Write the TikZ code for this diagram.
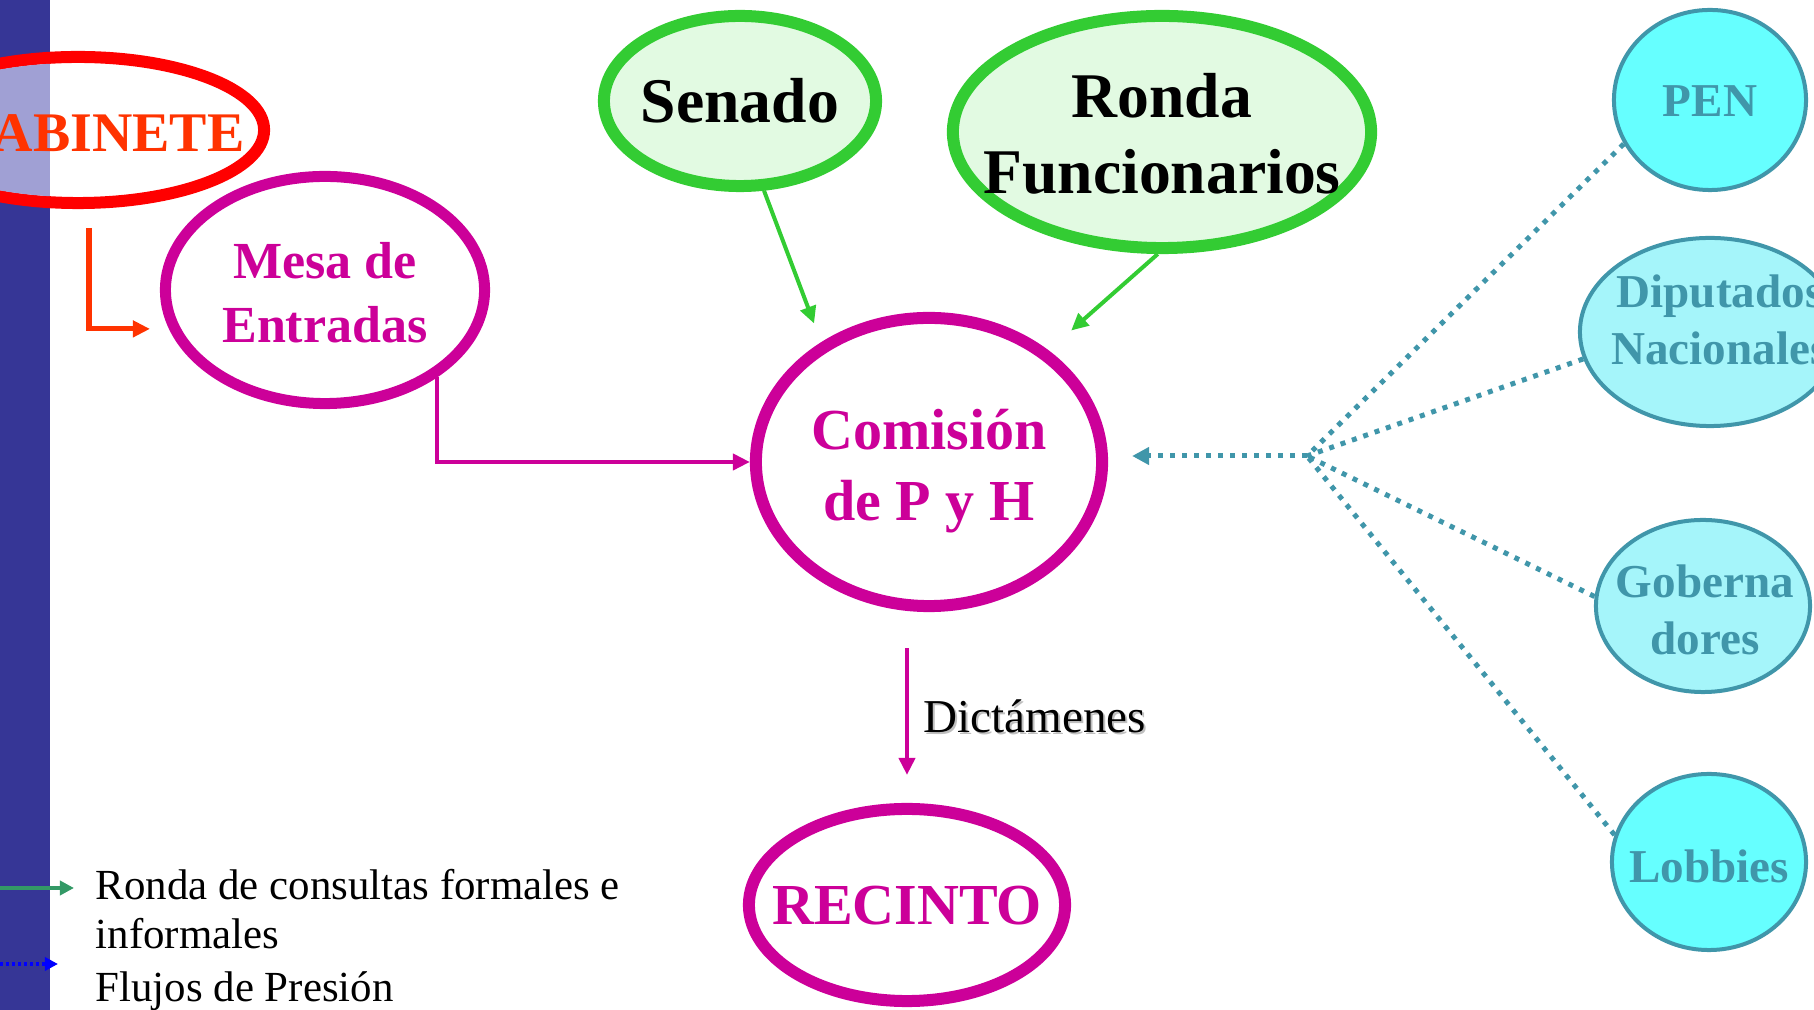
\documentclass[tikz,border=0pt]{standalone}
\usepackage{fontspec}
\setmainfont{Liberation Serif}
\usetikzlibrary{shapes.geometric,arrows.meta}

\definecolor{barblue}{RGB}{54,54,150}
\definecolor{speckblue}{RGB}{160,160,212}
\definecolor{gabred}{RGB}{255,0,0}
\definecolor{gabtext}{RGB}{255,51,0}
\definecolor{pyhpink}{RGB}{204,0,153}
\definecolor{rondagreen}{RGB}{51,204,51}
\definecolor{palegreen}{RGB}{226,250,226}
\definecolor{presteal}{RGB}{64,150,170}
\definecolor{cyanfill}{RGB}{102,255,255}
\definecolor{cyanspeck}{RGB}{165,245,250}
\definecolor{keygreen}{RGB}{51,153,102}
\definecolor{keyblue}{RGB}{0,0,255}

\begin{document}
\begin{tikzpicture}[x=0.01cm,y=-0.01cm,
    oval/.style={ellipse, inner sep=0pt, line width=0.12cm},
    pinkoval/.style={oval, draw=pyhpink, fill=white},
    greenoval/.style={oval, draw=rondagreen, fill=palegreen},
    presoval/.style={ellipse, inner sep=0pt, line width=0.04cm, draw=presteal},
    pinklabel/.style={inner sep=0pt, align=center, text=pyhpink},
    blacklabel/.style={inner sep=0pt, align=center, font=\bfseries\fontsize{18.1}{21.6}\selectfont},
    preslabel/.style={inner sep=0pt, align=center, text=presteal, font=\bfseries\fontsize{13.4}{16.2}\selectfont},
    keytext/.style={inner sep=0pt, align=left, font=\fontsize{12.2}{14.2}\selectfont},
    pinkarrow/.style={draw=pyhpink, line width=0.04cm, -{Triangle[length=0.17cm,width=0.16cm]}},
    greenarrow/.style={draw=rondagreen, line width=0.04cm, -{Triangle[length=0.17cm,width=0.16cm]}},
    presline/.style={draw=presteal, line width=0.05cm, dash pattern=on 0.05cm off 0.07cm}]

    \useasboundingbox (0,0) rectangle (1814,1010);
    \fill [barblue] (0,0) rectangle (50,1010);

    % gabinete
    \node [oval, draw=gabred, fill=white, minimum width=3.72cm, minimum height=1.46cm] (gabinete) at (78,130) {};
    \begin{scope}
        \clip (78,130) ellipse [x radius=1.80cm, y radius=0.67cm];
        \fill [speckblue] (0,0) rectangle (50,300);
    \end{scope}
    \node [inner sep=0pt, text=gabtext, font=\bfseries\fontsize{15.9}{18}\selectfont] (gabinete label) at (97,133) {GABINETE};

    % camara
    \node [pinkoval, line width=0.11cm, minimum width=3.19cm, minimum height=2.27cm] (mesa) at (325,290) {};
    \node [pinklabel, font=\bfseries\fontsize{14.8}{18.2}\selectfont] (mesa label) at (325,293) {Mesa de\\Entradas};

    \node [pinkoval, minimum width=3.46cm, minimum height=2.88cm] (comision) at (929,462) {};
    \node [pinklabel, font=\bfseries\fontsize{16.5}{20.2}\selectfont] (comision label) at (929,471) {Comisión\\de P y H};

    \node [pinkoval, minimum width=3.16cm, minimum height=1.92cm] (recinto) at (907,905) {};
    \node [pinklabel, font=\bfseries\fontsize{16.5}{20}\selectfont] (recinto label) at (907,906) {RECINTO};

    % consultas
    \node [greenoval, minimum width=2.72cm, minimum height=1.70cm] (senado) at (740,101) {};
    \node [blacklabel] (senado label) at (740,101) {Senado};
    \node [greenoval, minimum width=4.18cm, minimum height=2.32cm] (ronda) at (1162,132) {};
    \node [blacklabel] (ronda label) at (1162,134) {Ronda\\Funcionarios};

    % presion
    \node [presoval, fill=cyanfill, minimum width=1.92cm, minimum height=1.80cm] (pen) at (1710,100) {};
    \node [preslabel] (pen label) at (1710,101) {PEN};
    \node [presoval, fill=cyanspeck, minimum width=2.60cm, minimum height=1.88cm] (diputados) at (1710,332) {};
    \node [preslabel] (diputados label) at (1720,320) {Diputados\\Nacionales};
    \node [presoval, fill=cyanspeck, minimum width=2.14cm, minimum height=1.72cm] (gobernadores) at (1703,606) {};
    \node [preslabel] (gobernadores label) at (1705,610) {Goberna\\dores};
    \node [presoval, fill=cyanfill, minimum width=1.94cm, minimum height=1.76cm] (lobbies) at (1709,862) {};
    \node [preslabel] (lobbies label) at (1709,866) {Lobbies};

    % flechas
    \coordinate (gabinete out) at (89,228);
    \draw [draw=gabtext, line width=0.05cm, -{Triangle[length=0.17cm,width=0.16cm]}] (gabinete out) |- ([xshift=-0.19cm]mesa.194);
    \draw [pinkarrow] (mesa.322) |- (comision.west);
    \draw [greenarrow, shorten >=0.2cm] (senado.285) -- (comision.132);
    \draw [greenarrow, shorten >=0.3cm] (ronda.268) -- (comision.43);
    \draw [pinkarrow, shorten <=0.36cm, shorten >=0.28cm] (comision.south -| recinto.north) -- (recinto.north);
    \node [inner sep=0pt, anchor=base west, text=black!25, font=\fontsize{13.4}{16}\selectfont] (dictamenes shadow) at (925,735) {Dictámenes};
    \node [inner sep=0pt, anchor=base west, font=\fontsize{13.4}{16}\selectfont] (dictamenes) at (923,733) {Dictámenes};

    \coordinate (hub) at (1307,456);
    \foreach \src/\ang in {pen/207, diputados/192, gobernadores/175, lobbies/164}
        \draw [presline] (\src.\ang) -- (hub);
    \draw [presline, -{Triangle[length=0.17cm,width=0.17cm]}, shorten >=0.24cm] (hub) -- (hub -| comision.east);

    % leyenda
    \coordinate (ronda key) at (0,888);
    \node [keytext, anchor=base west] (ronda key label) at (95,949) {Ronda de consultas formales e\\informales};
    \draw [draw=keygreen, line width=0.04cm, -{Triangle[length=0.14cm,width=0.14cm]}, shorten >=0.21cm] (ronda key) -- (ronda key -| ronda key label.west);
    \coordinate (presion key) at (0,964);
    \node [keytext, anchor=base west] (presion key label) at (95,1002) {Flujos de Presión};
    \draw [draw=keyblue, line width=0.04cm, dash pattern=on 0.03cm off 0.03cm, -{Triangle[length=0.13cm,width=0.13cm]}, shorten >=0.37cm] (presion key) -- (presion key -| presion key label.west);
\end{tikzpicture}
\end{document}
